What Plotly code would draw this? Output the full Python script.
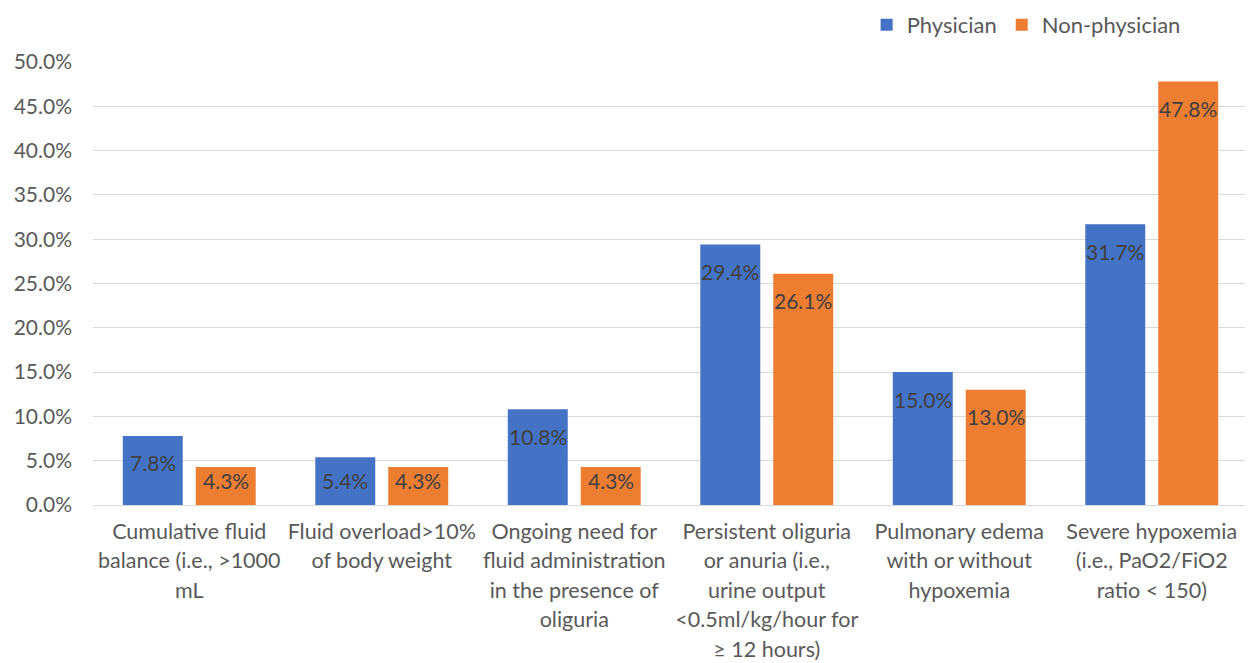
import plotly.graph_objects as go

categories = [
    "Cumulative fluid<br>balance (i.e., >1000<br>mL",
    "Fluid overload>10%<br>of body weight",
    "Ongoing need for<br>fluid administration<br>in the presence of<br>oliguria",
    "Persistent oliguria<br>or anuria (i.e.,<br>urine output<br><0.5ml/kg/hour for<br>≥ 12 hours)",
    "Pulmonary edema<br>with or without<br>hypoxemia",
    "Severe hypoxemia<br>(i.e., PaO2/FiO2<br>ratio < 150)",
]
physician = [7.8, 5.4, 10.8, 29.4, 15.0, 31.7]
non_physician = [4.3, 4.3, 4.3, 26.1, 13.0, 47.8]
tick_vals = [0, 5, 10, 15, 20, 25, 30, 35, 40, 45, 50]

FONT = "Lato, 'Open Sans', sans-serif"
BLUE = "#4472C4"
ORANGE = "#ED7D31"

def wrap(label, size=21.5):
    return "<br>".join(f'<span style="font-size:{size}px">{ln}</span>' for ln in label.split("<br>"))

fig = go.Figure()
fig.add_trace(go.Bar(name="Physician", x=categories, y=physician,
                     marker=dict(color=BLUE, line=dict(width=0))))
fig.add_trace(go.Bar(name="Non-physician", x=categories, y=non_physician,
                     marker=dict(color=ORANGE, line=dict(width=0))))

# data labels (inside end, Excel-like)
for vals, shift in ((physician, -36.5), (non_physician, 36.5)):
    for c, v in zip(categories, vals):
        fig.add_annotation(x=c, y=max(v - 3.05, 2.82), text=f"{v:.1f}%",
                           xref="x", yref="y", xshift=shift, showarrow=False,
                           yanchor="middle", xanchor="center",
                           font=dict(family=FONT, size=21, color="#404040"))

fig.update_layout(
    width=1245, height=655,
    paper_bgcolor="white", plot_bgcolor="white",
    margin=dict(l=85, r=5, t=54, b=158, autoexpand=False),
    barmode="group", bargap=0.242, bargroupgap=0.178,
    font=dict(family=FONT, color="#595959"),
    showlegend=True,
    legend=dict(orientation="h", x=0.946, xanchor="right", y=1.0835, yanchor="middle",
                font=dict(size=22, color="#595959"), itemwidth=30,
                bgcolor="rgba(0,0,0,0)"),
    xaxis=dict(tickvals=categories, ticktext=[wrap(c) for c in categories],
               tickfont=dict(size=22.7, color="#595959"), ticks="",
               showgrid=False, showline=False, ticklabelstandoff=10,
               automargin=False),
    yaxis=dict(range=[0, 50], tickvals=tick_vals,
               ticktext=[f"{t:.1f}%" for t in tick_vals],
               tickfont=dict(size=21, color="#595959"),
               showgrid=True, gridcolor="#D9D9D9", gridwidth=1,
               zeroline=True, zerolinecolor="#D9D9D9", zerolinewidth=1,
               ticks="", ticklabelstandoff=20, automargin=False),
)

fig.write_html("out.html")
